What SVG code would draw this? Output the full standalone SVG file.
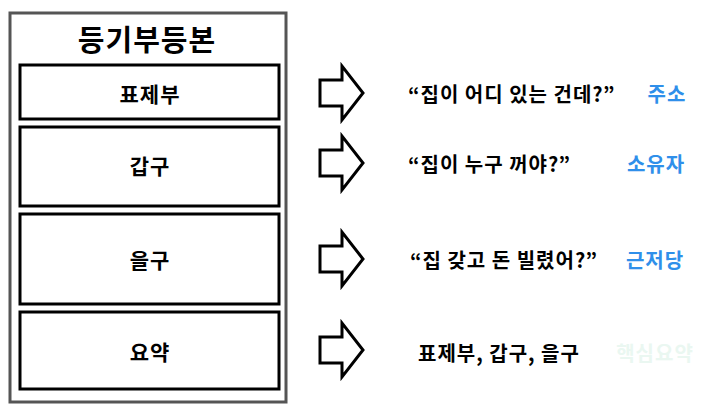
<svg xmlns="http://www.w3.org/2000/svg" width="720" height="414" viewBox="0 0 720 414">
<style>
text{font-family:"Noto Sans CJK KR","Noto Sans",sans-serif;font-weight:bold}
.box{fill:#fff;stroke:#000;stroke-width:3}
.lbl{font-size:21px;letter-spacing:1px;fill:#000;text-anchor:middle;dominant-baseline:central}
.q{font-size:20px;letter-spacing:1px;fill:#000;dominant-baseline:central}
.tag{font-size:20px;letter-spacing:1px;fill:#2f8fea;text-anchor:middle;dominant-baseline:central}
.arr{fill:#fff;stroke:#000;stroke-width:3;stroke-linejoin:miter}
</style>
<rect width="720" height="414" fill="#fff"/>
<g id="registry">
<rect x="10" y="13" width="276" height="389" fill="#fff" stroke="#555" stroke-width="3"/>
<text x="147" y="38" font-size="29" letter-spacing="1" text-anchor="middle" dominant-baseline="central" fill="#000">등기부등본</text>
</g>
<g id="node-title">
<rect class="box" x="20" y="65" width="259" height="54"/>
<text class="lbl" x="150" y="93">표제부</text>
</g>
<g id="node-gap">
<rect class="box" x="20" y="127" width="259" height="79"/>
<text class="lbl" x="150" y="165">갑구</text>
</g>
<g id="node-eul">
<rect class="box" x="20" y="214" width="259" height="90"/>
<text class="lbl" x="150" y="259">을구</text>
</g>
<g id="node-summary">
<rect class="box" x="20" y="312" width="259" height="77"/>
<text class="lbl" x="150" y="351">요약</text>
</g>
<g id="connectors">
<polygon class="arr" points="320,80 342,80 342,66 363,93 342,120 342,106 320,106"/>
<polygon class="arr" points="320,150 342,150 342,136 363,163 342,190 342,176 320,176"/>
<polygon class="arr" points="320,246 342,246 342,232 363,259 342,286 342,272 320,272"/>
<polygon class="arr" points="320,337 342,337 342,323 363,350 342,377 342,363 320,363"/>
</g>
<g id="row1">
<text class="q" x="408" y="93">“집이 어디 있는 건데?”</text>
<text class="tag" x="667" y="93">주소</text>
</g>
<g id="row2">
<text class="q" x="408" y="163">“집이 누구 꺼야?”</text>
<text class="tag" x="656" y="163">소유자</text>
</g>
<g id="row3">
<text class="q" x="410" y="259">“집 갖고 돈 빌렸어?”</text>
<text class="tag" x="655" y="259">근저당</text>
</g>
<g id="row4">
<text class="q" x="418" y="352">표제부, 갑구, 을구</text>
<text class="tag" x="655" y="352" style="fill:#eaf7f1">핵심요약</text>
</g>
</svg>
